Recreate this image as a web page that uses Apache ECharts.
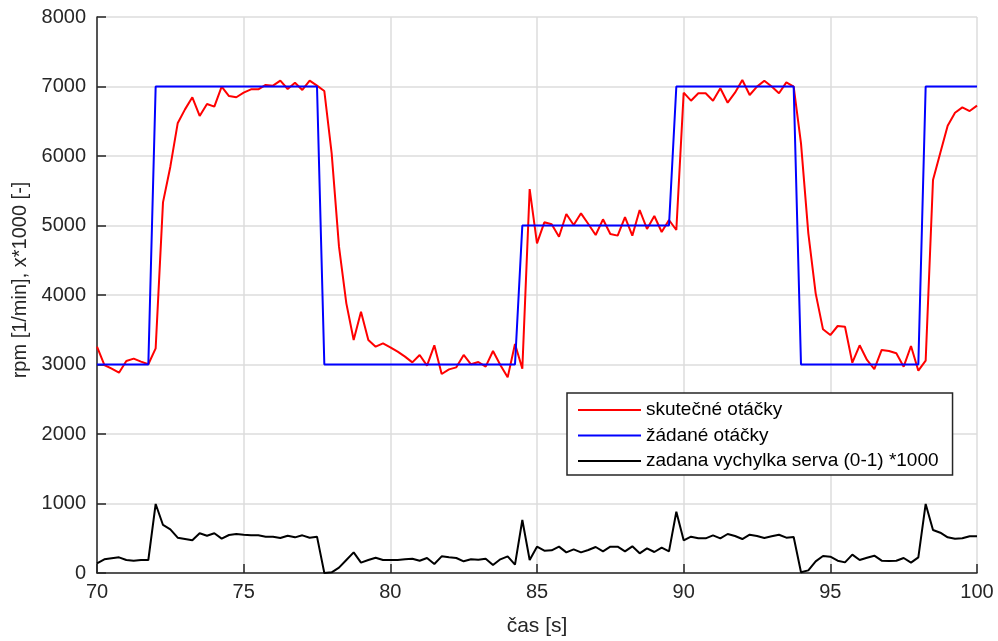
<!DOCTYPE html>
<html>
<head>
<meta charset="utf-8">
<script src="https://cdn.jsdelivr.net/npm/echarts@6/dist/echarts.min.js"></script>
<style>
  html, body { margin: 0; padding: 0; background: #fff; }
  #chart { width: 998px; height: 641px; }
</style>
</head>
<body>
<div id="chart"></div>
<script>
// sample clock: 70 s .. 100 s, 0.25 s step
const tStart = 70;
const tStep = 0.25;

// skutečné otáčky (rpm)
const actualRpm = [
  3256, 2993, 2940, 2882, 3050, 3084, 3041, 3003, 3233, 5333,
  5846, 6470, 6671, 6845, 6576, 6748, 6710, 6998, 6863, 6845,
  6911, 6959, 6959, 7022, 7012, 7084, 6964, 7055, 6950, 7084,
  7012, 6935, 6038, 4695, 3880, 3353, 3760, 3353, 3256, 3305,
  3247, 3185, 3113, 3031, 3137, 2983, 3276, 2863, 2930, 2959,
  3137, 3003, 3036, 2969, 3194, 2993, 2815, 3295, 2940, 5525,
  4743, 5046, 5017, 4839, 5165, 5007, 5175, 5022, 4863, 5089,
  4878, 4854, 5122, 4854, 5223, 4950, 5137, 4906, 5079, 4935,
  6911, 6796, 6902, 6902, 6796, 6974, 6767, 6911, 7094, 6878,
  6998, 7084, 7000, 6902, 7060, 6998, 6182, 4887, 4024, 3506,
  3424, 3554, 3544, 3026, 3276, 3065, 2935, 3209, 3194, 3161,
  2969, 3266, 2911, 3055, 5655, 6048, 6436, 6623, 6700, 6647,
  6724
];

// žádané otáčky (rpm)
const setRpm = [
  3000, 3000, 3000, 3000, 3000, 3000, 3000, 3000, 7000, 7000,
  7000, 7000, 7000, 7000, 7000, 7000, 7000, 7000, 7000, 7000,
  7000, 7000, 7000, 7000, 7000, 7000, 7000, 7000, 7000, 7000,
  7000, 3000, 3000, 3000, 3000, 3000, 3000, 3000, 3000, 3000,
  3000, 3000, 3000, 3000, 3000, 3000, 3000, 3000, 3000, 3000,
  3000, 3000, 3000, 3000, 3000, 3000, 3000, 3000, 5000, 5000,
  5000, 5000, 5000, 5000, 5000, 5000, 5000, 5000, 5000, 5000,
  5000, 5000, 5000, 5000, 5000, 5000, 5000, 5000, 5000, 7000,
  7000, 7000, 7000, 7000, 7000, 7000, 7000, 7000, 7000, 7000,
  7000, 7000, 7000, 7000, 7000, 7000, 3000, 3000, 3000, 3000,
  3000, 3000, 3000, 3000, 3000, 3000, 3000, 3000, 3000, 3000,
  3000, 3000, 3000, 7000, 7000, 7000, 7000, 7000, 7000, 7000,
  7000
];

// zadana vychylka serva (0-1) *1000
const servo = [
  139, 197, 211, 225, 187, 177, 187, 187, 993, 691,
  628, 508, 489, 470, 571, 537, 571, 494, 547, 561,
  551, 542, 542, 523, 523, 504, 537, 513, 542, 508,
  523, 0, 10, 77, 187, 297, 149, 187, 220, 187,
  187, 187, 197, 206, 177, 216, 129, 240, 225, 216,
  168, 197, 192, 206, 115, 197, 240, 120, 763, 187,
  379, 321, 326, 379, 297, 341, 297, 331, 374, 312,
  379, 379, 312, 384, 283, 355, 302, 364, 312, 882,
  470, 523, 499, 499, 542, 499, 561, 532, 489, 551,
  532, 504, 528, 551, 508, 518, 10, 38, 168, 244,
  235, 177, 153, 264, 187, 220, 249, 177, 173, 177,
  216, 149, 225, 993, 619, 580, 513, 494, 499, 528,
  528
];

const seriesNames = ['skutečné otáčky', 'žádané otáčky', 'zadana vychylka serva (0-1) *1000'];
const xTicks = [70, 75, 80, 85, 90, 95, 100];
const yTicks = [0, 1000, 2000, 3000, 4000, 5000, 6000, 7000, 8000];

function pairs(vals) {
  return vals.map((v, i) => [tStart + i * tStep, v]);
}

const font = 'Arial, "Liberation Sans", Helvetica, sans-serif';
const axisColor = '#262626';
const gridColor = '#dcdcdc';

const chart = echarts.init(document.getElementById('chart'));
chart.setOption({
  animation: false,
  textStyle: { fontFamily: font },
  grid: { left: 97, right: 21, top: 17, bottom: 68, outerBoundsMode: 'none' },
  legend: {
    orient: 'vertical',
    left: 567,
    top: 393,
    padding: [7, 14, 4, 11],
    icon: 'rect',
    itemWidth: 63,
    itemHeight: 2,
    itemGap: 5.5,
    backgroundColor: '#fff',
    borderColor: axisColor,
    borderWidth: 1.5,
    textStyle: { fontFamily: font, fontSize: 19, lineHeight: 20, color: '#000', padding: [0, 0, 0, 0] },
    data: seriesNames
  },
  xAxis: {
    type: 'value',
    min: xTicks[0],
    max: xTicks[xTicks.length - 1],
    interval: 5,
    name: 'čas [s]',
    nameLocation: 'middle',
    nameGap: 43,
    nameTextStyle: { fontFamily: font, fontSize: 21, color: axisColor },
    axisLine: { lineStyle: { color: axisColor, width: 1.5 } },
    axisTick: { inside: true, length: 9, lineStyle: { color: axisColor, width: 1.5 } },
    axisLabel: { fontSize: 20, color: axisColor, margin: 9, fontFamily: font },
    splitLine: { show: true, lineStyle: { color: gridColor, width: 1.5 } }
  },
  yAxis: {
    type: 'value',
    min: yTicks[0],
    max: yTicks[yTicks.length - 1],
    interval: 1000,
    name: 'rpm [1/min], x*1000 [-]',
    nameLocation: 'middle',
    nameGap: 66,
    nameTextStyle: { fontFamily: font, fontSize: 20, color: axisColor, padding: [0, 0, 0, 30] },
    axisLine: { show: true, lineStyle: { color: axisColor, width: 1.5 } },
    axisTick: { show: true, inside: true, length: 9, lineStyle: { color: axisColor, width: 1.5 } },
    axisLabel: { fontSize: 20, color: axisColor, margin: 11, fontFamily: font, formatter: v => String(v) },
    splitLine: { show: true, lineStyle: { color: gridColor, width: 1.5 } }
  },
  series: [
    {
      name: seriesNames[0], type: 'line', symbol: 'none',
      data: pairs(actualRpm),
      lineStyle: { color: '#ff0000', width: 2 }, itemStyle: { color: '#ff0000' }
    },
    {
      name: seriesNames[1], type: 'line', symbol: 'none',
      data: pairs(setRpm),
      lineStyle: { color: '#0000ff', width: 2 }, itemStyle: { color: '#0000ff' }
    },
    {
      name: seriesNames[2], type: 'line', symbol: 'none',
      data: pairs(servo),
      lineStyle: { color: '#000000', width: 2 }, itemStyle: { color: '#000000' }
    }
  ]
});
</script>
</body>
</html>
